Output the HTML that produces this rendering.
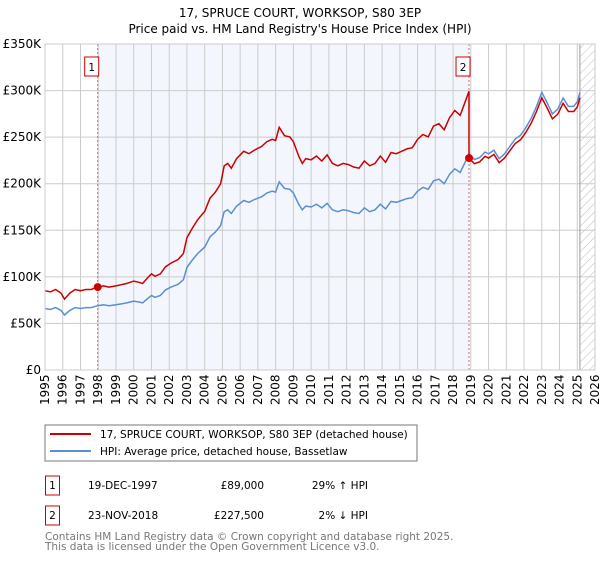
<!DOCTYPE html>
<html><head><meta charset="utf-8"><style>
body{margin:0;background:#fff;font-family:"DejaVu Sans","Liberation Sans",sans-serif;}
svg text{font-family:"DejaVu Sans","Liberation Sans",sans-serif;}
</style></head><body>
<svg id="c" width="600" height="560" viewBox="0 0 600 560" xmlns="http://www.w3.org/2000/svg">
<defs><pattern id="hatch" width="6" height="6" patternUnits="userSpaceOnUse" patternTransform="rotate(45)"><line x1="0" y1="0" x2="0" y2="6" stroke="#bbb" stroke-width="1"/></pattern></defs>
<text x="300" y="17" text-anchor="middle" font-size="12">17, SPRUCE COURT, WORKSOP, S80 3EP</text>
<text x="300" y="33" text-anchor="middle" font-size="12">Price paid vs. HM Land Registry's House Price Index (HPI)</text>
<g id="plot"></g>
<rect x="45" y="425" width="372" height="36" fill="#fff" stroke="#777"/>
<line x1="50" y1="434" x2="91" y2="434" stroke="#cc0000" stroke-width="2"/>
<text x="100" y="438" font-size="10.5">17, SPRUCE COURT, WORKSOP, S80 3EP (detached house)</text>
<line x1="50" y1="451" x2="91" y2="451" stroke="#5b8fd1" stroke-width="2"/>
<text x="100" y="455" font-size="10.5">HPI: Average price, detached house, Bassetlaw</text>
<g font-size="10.5">
<rect x="45.5" y="476" width="14" height="19" fill="#fff" stroke="#cc0000"/>
<text x="52.5" y="489" text-anchor="middle">1</text>
<text x="88" y="489">19-DEC-1997</text>
<text x="264" y="489" text-anchor="end">£89,000</text>
<text x="368" y="489" text-anchor="end">29% ↑ HPI</text>
<rect x="45.5" y="506" width="14" height="19" fill="#fff" stroke="#cc0000"/>
<text x="52.5" y="519" text-anchor="middle">2</text>
<text x="88" y="519">23-NOV-2018</text>
<text x="264" y="519" text-anchor="end">£227,500</text>
<text x="368" y="519" text-anchor="end">2% ↓ HPI</text>
</g>
<text x="45" y="540" font-size="10.5" fill="#777">Contains HM Land Registry data © Crown copyright and database right 2025.</text>
<text x="45" y="550" font-size="10.5" fill="#777">This data is licensed under the Open Government Licence v3.0.</text>
</svg>
<script>
const yearTicks=[1995,1996,1997,1998,1999,2000,2001,2002,2003,2004,2005,2006,2007,2008,2009,2010,2011,2012,2013,2014,2015,2016,2017,2018,2019,2020,2021,2022,2023,2024,2025,2026];
const priceTicks=[0,50,100,150,200,250,300,350];
const priceTickLabels=["£0","£50K","£100K","£150K","£200K","£250K","£300K","£350K"];
const hpiDates=[1995.0,1995.3,1995.6,1995.9,1996.1,1996.4,1996.7,1997.0,1997.3,1997.6,1997.97,1998.3,1998.6,1999.0,1999.3,1999.6,2000.0,2000.3,2000.5,2000.8,2001.0,2001.2,2001.5,2001.8,2002.1,2002.5,2002.8,2003.0,2003.3,2003.6,2004.0,2004.3,2004.6,2004.9,2005.1,2005.3,2005.5,2005.8,2006.2,2006.5,2006.8,2007.2,2007.5,2007.8,2008.0,2008.2,2008.5,2008.8,2009.0,2009.3,2009.5,2009.7,2010.0,2010.3,2010.6,2010.9,2011.2,2011.5,2011.8,2012.1,2012.4,2012.7,2013.0,2013.3,2013.6,2013.9,2014.2,2014.5,2014.8,2015.1,2015.4,2015.7,2016.0,2016.3,2016.6,2016.9,2017.2,2017.5,2017.8,2018.1,2018.4,2018.7,2018.9,2019.2,2019.5,2019.8,2020.0,2020.3,2020.6,2020.9,2021.2,2021.5,2021.8,2022.1,2022.4,2022.7,2023.0,2023.3,2023.6,2023.9,2024.2,2024.5,2024.8,2025.0,2025.15];
const hpiValues=[66,65,67,64,59,64,67,66,67,67,69,70,69,70,71,72,74,73,72,77,80,78,80,86,89,92,97,110,118,125,132,143,148,155,170,172,168,176,182,180,183,186,190,192,191,202,195,194,190,178,172,176,175,178,174,179,172,170,172,171,169,168,174,170,172,178,173,181,180,182,184,185,192,196,194,203,205,200,210,216,212,224,232,226,228,234,232,236,227,232,240,248,252,260,270,283,298,287,275,280,292,283,283,288,298,312];
const sale1Date=1997.97, sale1Price=89;
const sale2Date=2018.9, sale2Price=227.5;

const NS="http://www.w3.org/2000/svg";
const X0=45,X1=595,Y0=370,Y1=44;
const xs=y=>X0+(y-1995)/(2026-1995)*(X1-X0);
const ys=v=>Y0-(v/350)*(Y0-Y1);
const plot=document.getElementById('plot');
function mk(tag,attrs){const e=document.createElementNS(NS,tag);for(const k in attrs)e.setAttribute(k,attrs[k]);plot.appendChild(e);return e;}
function hpiAt(d){for(let i=1;i<hpiDates.length;i++){if(d<=hpiDates[i]){const t=(d-hpiDates[i-1])/(hpiDates[i]-hpiDates[i-1]);return hpiValues[i-1]+t*(hpiValues[i]-hpiValues[i-1]);}}return hpiValues[hpiValues.length-1];}

let e=mk('rect',{x:xs(sale1Date),y:Y1,width:xs(sale2Date)-xs(sale1Date),height:Y0-Y1,fill:'#f3f6fd'});


e=mk('rect',{x:xs(2025.15),y:Y1,width:X1-xs(2025.15),height:Y0-Y1,fill:'url(#hatch)'});


yearTicks.forEach(y=>{
  e=mk('line',{x1:xs(y),y1:Y1,x2:xs(y),y2:Y0,stroke:'#ccc','stroke-width':1});
  
  
  e=mk('text',{x:0,y:0,'font-size':12,transform:`translate(${xs(y)+4},${Y0+35}) rotate(-90)`});
  e.textContent=y;
  
  
});
priceTicks.forEach((v,i)=>{
  e=mk('line',{x1:X0,y1:ys(v),x2:X1,y2:ys(v),stroke:'#ccc','stroke-width':1});
  
  
  e=mk('text',{x:X0-4,y:ys(v)+4,'font-size':12,'text-anchor':'end'});
  e.textContent=priceTickLabels[i];
  
  
});
e=mk('line',{x1:xs(2025.15),y1:Y1,x2:xs(2025.15),y2:Y0,stroke:'#999','stroke-width':1});


[sale1Date,sale2Date].forEach((d,i)=>{
  e=mk('line',{x1:xs(d),y1:Y1,x2:xs(d),y2:Y0,stroke:'#e06666','stroke-width':1,'stroke-dasharray':'2,2'});
  
  
});
// HPI line
let pts=hpiDates.map((d,i)=>xs(d).toFixed(1)+','+ys(hpiValues[i]).toFixed(1));
e=mk('polyline',{points:pts.join(' '),fill:'none',stroke:'#5b8fd1','stroke-width':1.5});


// property line: indexed from sales
const r1=sale1Price/hpiAt(sale1Date), r2=sale2Price/hpiAt(sale2Date);
let rp=[];
hpiDates.forEach((d,i)=>{
  if(d<sale2Date) rp.push([d,hpiValues[i]*r1]);
});
rp.push([sale2Date,hpiAt(sale2Date)*r1]);
rp.push([sale2Date,sale2Price]);
hpiDates.forEach((d,i)=>{ if(d>sale2Date) rp.push([d,hpiValues[i]*r2]); });
e=mk('polyline',{points:rp.map(p=>xs(p[0]).toFixed(1)+','+ys(p[1]).toFixed(1)).join(' '),fill:'none',stroke:'#cc0000','stroke-width':1.5});


[[sale1Date,sale1Price],[sale2Date,sale2Price]].forEach((p,i)=>{
  e=mk('circle',{cx:xs(p[0]),cy:ys(p[1]),r:4,fill:'#cc0000'});
  
  
  e=mk('rect',{x:xs(p[0])-13,y:57,width:14,height:19,fill:'#fff',stroke:'#cc0000'});
  
  
  e=mk('text',{x:xs(p[0])-6,y:71,'font-size':10.5,'text-anchor':'middle'});
  e.textContent=String(i+1);
  
  
});
e=mk('rect',{x:X0,y:Y1,width:X1-X0,height:Y0-Y1,fill:'none',stroke:'#ccc'});


</script>
</body></html>
